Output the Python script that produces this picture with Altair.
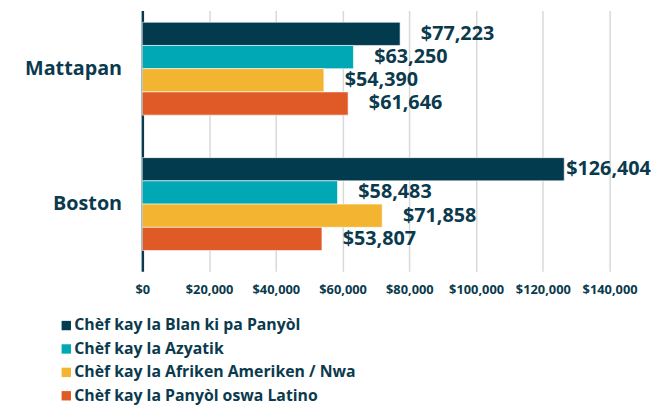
import altair as alt
import pandas as pd

categories = ["Mattapan", "Boston"]
series = [
    "Chèf kay la Blan ki pa Panyòl",
    "Chèf kay la Azyatik",
    "Chèf kay la Afriken Ameriken / Nwa",
    "Chèf kay la Panyòl oswa Latino",
]
mattapan_values = [77223, 63250, 54390, 61646]
boston_values = [126404, 58483, 71858, 53807]
colors = ["#023a4e", "#00a8b5", "#f2b431", "#e05a28"]
tick_values = [0, 20000, 40000, 60000, 80000, 100000, 120000, 140000]

rows = []
for cat, vals in zip(categories, [mattapan_values, boston_values]):
    for s, v in zip(series, vals):
        rows.append({"area": cat, "group": s, "value": v})
df = pd.DataFrame(rows)

NAVY = "#0b3a4e"
FONT = "Open Sans"

y = alt.Y(
    "area:N", sort=categories, title=None,
    scale=alt.Scale(paddingInner=0.314, paddingOuter=0.12, align=0.364),
    axis=alt.Axis(labelFont=FONT, labelFontWeight="bold", labelFontSize=20,
                  labelColor=NAVY, labelPadding=21, ticks=False,
                  domainColor=NAVY, domainWidth=2.5, grid=False),
)
yoff = alt.YOffset("group:N", sort=series,
                   scale=alt.Scale(paddingInner=0, paddingOuter=0))
x = alt.X(
    "value:Q", title=None,
    scale=alt.Scale(domain=[0, 140000], nice=False),
    axis=alt.Axis(values=tick_values, format="$,d", labelFont=FONT,
                  labelFontWeight="bold", labelFontSize=13, labelColor=NAVY,
                  labelOverlap=False, labelFlush=False,
                  grid=True, gridColor="#d9d9d9", gridWidth=1.5, domain=False,
                  ticks=False, labelPadding=13),
)
color = alt.Color(
    "group:N", sort=series,
    scale=alt.Scale(domain=series, range=colors),
    legend=alt.Legend(title=None, orient="none", legendX=-85, legendY=311,
                      direction="vertical", symbolType="square", symbolSize=90,
                      symbolStrokeWidth=0, symbolOpacity=1, labelFont=FONT,
                      labelFontWeight="bold", labelFontSize=16, labelColor=NAVY,
                      labelLimit=0, rowPadding=7.7, labelOffset=0),
)

base = alt.Chart(df)
bars = base.mark_bar(stroke="white", strokeWidth=0.6).encode(
    x=x, y=y, yOffset=yoff, color=color
)
text_style = dict(align="left", baseline="middle", font=FONT,
                  fontWeight="bold", fontSize=20, color=NAVY)
labels = base.mark_text(dx=21, **text_style).encode(
    x="value:Q", y=alt.Y("area:N", sort=categories), yOffset=yoff,
    text=alt.Text("value:Q", format="$,d"),
).transform_filter(alt.datum.value < 100000)
labels_big = base.mark_text(dx=2, **text_style).encode(
    x="value:Q", y=alt.Y("area:N", sort=categories), yOffset=yoff,
    text=alt.Text("value:Q", format="$,d"),
).transform_filter(alt.datum.value >= 100000)

chart = alt.layer(bars, labels, labels_big).properties(
    width=473, height=264,
    padding={"left": 136, "top": 0, "right": 51, "bottom": 134},
    autosize=alt.AutoSizeParams(type="none"),
).configure_view(stroke=None)

chart.save("out.html", embed_options={"renderer": "svg", "actions": False})
